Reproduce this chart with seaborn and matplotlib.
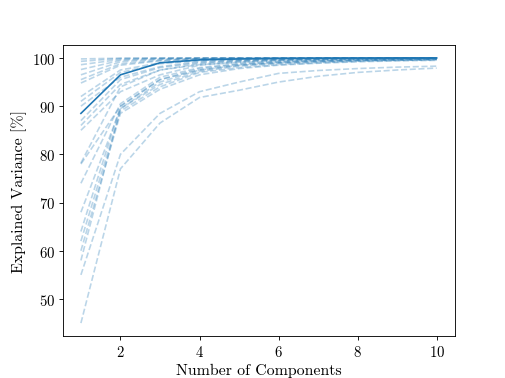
import numpy as np
import pandas as pd
import matplotlib
matplotlib.use("Agg")
import matplotlib.pyplot as plt
import seaborn as sns

components = [1, 2, 3, 4, 5, 6, 7, 8, 9, 10]

run_01 = [99.8, 99.95, 99.98, 99.99, 100.0, 100.0, 100.0, 100.0, 100.0, 100.0]
run_02 = [99.3, 99.9, 99.97, 99.99, 100.0, 100.0, 100.0, 100.0, 100.0, 100.0]
run_03 = [98.6, 99.7, 99.9, 99.95, 99.98, 99.99, 100.0, 100.0, 100.0, 100.0]
run_04 = [97.6, 99.5, 99.8, 99.9, 99.95, 99.97, 99.98, 99.99, 100.0, 100.0]
run_05 = [96.5, 99.2, 99.7, 99.85, 99.9, 99.95, 99.97, 99.98, 99.99, 100.0]
run_06 = [95.5, 98.8, 99.5, 99.8, 99.9, 99.94, 99.96, 99.98, 99.99, 100.0]
run_07 = [94.8, 98.5, 99.4, 99.7, 99.85, 99.9, 99.94, 99.96, 99.98, 99.99]
run_08 = [92.0, 97.5, 99.0, 99.5, 99.7, 99.8, 99.9, 99.94, 99.97, 99.99]
run_09 = [91.0, 97.0, 98.8, 99.4, 99.6, 99.75, 99.85, 99.9, 99.95, 99.98]
run_10 = [90.0, 96.0, 98.2, 99.2, 99.5, 99.7, 99.8, 99.88, 99.93, 99.97]
run_11 = [87.0, 95.5, 98.0, 99.0, 99.4, 99.6, 99.75, 99.85, 99.9, 99.95]
run_12 = [86.0, 94.5, 97.5, 98.8, 99.3, 99.55, 99.7, 99.8, 99.88, 99.93]
run_13 = [85.0, 93.0, 96.5, 98.5, 99.1, 99.4, 99.6, 99.75, 99.85, 99.9]
run_14 = [78.0, 90.0, 95.5, 97.5, 98.5, 99.0, 99.3, 99.5, 99.65, 99.75]
run_15 = [78.2, 94.0, 97.5, 98.6, 99.1, 99.4, 99.6, 99.7, 99.8, 99.85]
run_16 = [74.0, 90.5, 96.0, 98.0, 98.8, 99.2, 99.45, 99.6, 99.7, 99.8]
run_17 = [68.0, 89.5, 95.0, 97.5, 98.5, 99.0, 99.3, 99.5, 99.6, 99.7]
run_18 = [64.0, 90.0, 95.5, 97.8, 98.7, 99.1, 99.35, 99.55, 99.65, 99.75]
run_19 = [62.0, 89.0, 94.0, 97.0, 98.0, 98.6, 99.0, 99.3, 99.5, 99.6]
run_20 = [60.0, 88.5, 93.5, 96.5, 97.8, 98.5, 98.9, 99.2, 99.4, 99.5]
run_21 = [58.0, 89.5, 94.5, 97.2, 98.3, 98.8, 99.1, 99.35, 99.5, 99.6]
run_22 = [55.0, 80.0, 88.5, 93.0, 95.0, 96.8, 97.4, 97.8, 98.1, 98.3]
run_23 = [45.0, 77.0, 86.5, 91.8, 93.3, 95.0, 96.2, 97.0, 97.5, 97.9]

runs = [run_01, run_02, run_03, run_04, run_05, run_06, run_07, run_08, run_09,
        run_10, run_11, run_12, run_13, run_14, run_15, run_16, run_17, run_18,
        run_19, run_20, run_21, run_22, run_23]

highlight = [88.5, 96.5, 99.0, 99.6, 99.8, 99.9, 99.95, 99.97, 99.99, 100.0]

rows = []
for i, r in enumerate(runs):
    for c, v in zip(components, r):
        rows.append({"comp": c, "var": v, "run": i})
df = pd.DataFrame(rows)

plt.rcParams["font.family"] = ["cmr10", "DejaVu Serif"]
plt.rcParams["mathtext.fontset"] = "cm"
plt.rcParams["axes.unicode_minus"] = False
plt.rcParams["axes.formatter.use_mathtext"] = True

fig, ax = plt.subplots(figsize=(6.4, 4.8), dpi=505 / 6.4)

sns.lineplot(data=df, x="comp", y="var", units="run", estimator=None,
             color="#1f77b4", alpha=0.3, linestyle="--", linewidth=1.5, ax=ax)
sns.lineplot(x=components, y=highlight, color="#1f77b4", linewidth=1.5, ax=ax)

ax.set_xlabel("Number of Components", fontsize=14.5)
ax.set_ylabel("Explained Variance [%]", fontsize=14.5)
ax.tick_params(labelsize=13.5)

fig.savefig("out.png", dpi=505 / 6.4)
